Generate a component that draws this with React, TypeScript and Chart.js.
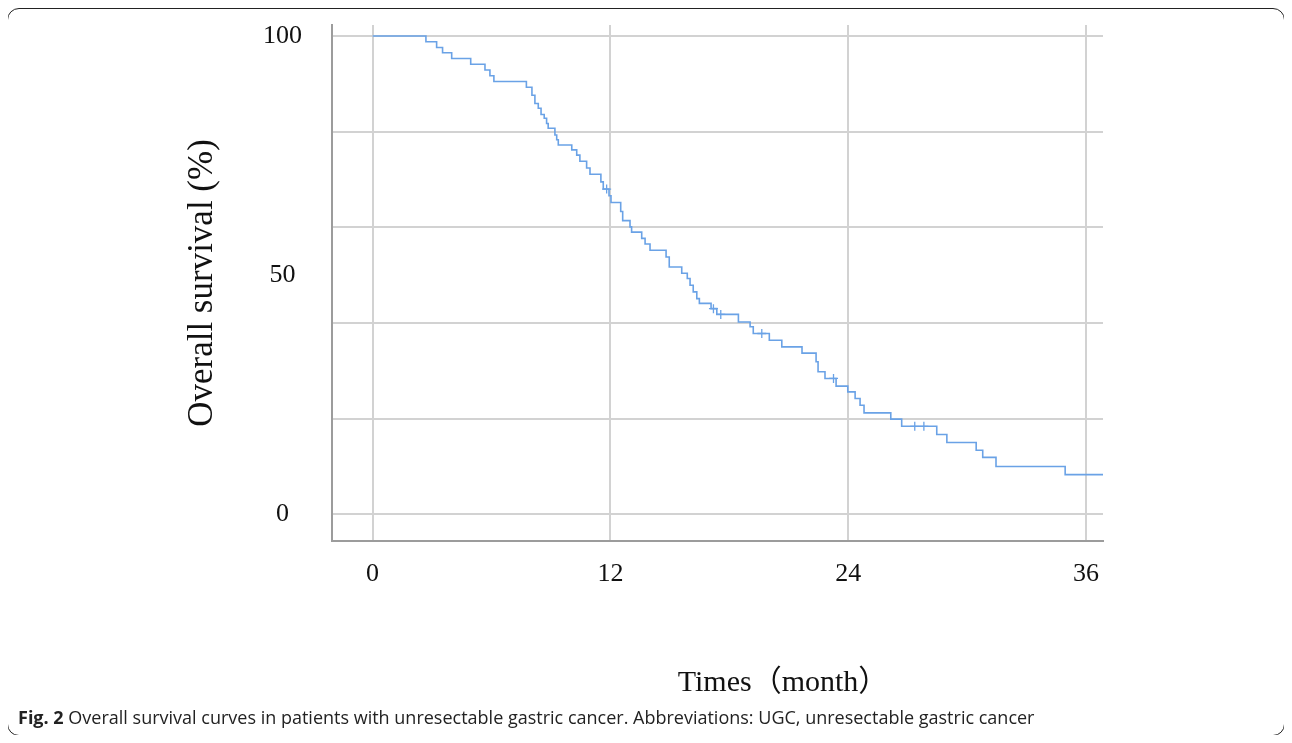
import React, { useEffect, useRef } from 'react';
import { Chart, registerables } from 'chart.js';

Chart.register(...registerables);

// Kaplan–Meier step points: time (months) and survival (%) after each event
const months = [
  0, 2.69, 3.23, 3.53, 3.99, 4.95, 5.67, 5.92, 6.12, 7.76, 8.04, 8.19, 8.36, 8.5, 8.66, 8.78, 8.86,
  9.2, 9.29, 9.37, 10.05, 10.3, 10.46, 10.8, 10.97, 11.52, 11.64, 11.93, 12.03, 12.52, 12.62, 12.99,
  13.07, 13.58, 13.75, 14.0, 14.81, 14.97, 15.6, 15.88, 16.02, 16.18, 16.36, 16.49, 17.08, 17.37,
  18.46, 19.05, 19.21, 20.02, 20.65, 21.67, 22.38, 22.48, 22.83, 23.39, 23.98, 24.35, 24.6, 24.8,
  26.15, 26.7, 28.47, 28.98, 30.46, 30.79, 31.46, 34.95, 36.86,
];
const survival = [
  100, 98.8, 97.6, 96.5, 95.3, 94.1, 92.9, 91.7, 90.5, 89.3, 87.6, 85.9, 84.9, 83.6, 82.8, 81.7, 80.7,
  79.3, 78.3, 77.2, 76.2, 75.1, 73.8, 72.4, 71.1, 69.5, 68.0, 66.6, 65.2, 63.3, 61.4, 60.1,
  59.0, 57.7, 56.5, 55.2, 53.8, 51.7, 50.4, 49.3, 47.9, 46.5, 45.1, 44.1, 43.0, 41.8,
  40.2, 39.2, 37.8, 36.4, 35.0, 33.7, 31.9, 29.8, 28.4, 26.8, 25.6, 24.2, 22.8, 21.2,
  19.9, 18.4, 16.7, 15.0, 13.4, 11.9, 10.0, 8.3, 8.3,
];
// censored observations
const censorMonths = [11.81, 17.2, 17.57, 19.64, 23.26, 27.36, 27.82];
const censorSurvival = [68.0, 43.0, 41.8, 37.8, 28.4, 18.4, 18.4];

const xTicks = [0, 12, 24, 36];
const yGridTicks = [0, 20, 40, 50, 60, 80, 100];
const yLabelTicks = [0, 50, 100];

const xTitle = 'Times（month）';
const yTitle = 'Overall survival (%)';
const captionBold = 'Fig. 2';
const captionText =
  ' Overall survival curves in patients with unresectable gastric cancer. Abbreviations: UGC, unresectable gastric cancer';

const LINE = '#6aa2e6';
const GRID = '#d2d2d2';
const AXIS = '#9c9c9c';
const SERIF = '"Liberation Serif", "Times New Roman", "Noto Sans CJK SC", serif';

// x-axis title drawn below the plot, offset to the right as in the original figure
const xTitlePlugin = {
  id: 'xTitlePlugin',
  afterDraw(chart: any) {
    const { ctx, chartArea } = chart;
    ctx.save();
    ctx.font = `30px ${SERIF}`;
    ctx.fillStyle = '#111';
    ctx.textAlign = 'center';
    ctx.textBaseline = 'middle';
    const cx = chartArea.left + chartArea.width * 0.585;
    ctx.fillText(xTitle, cx, chartArea.bottom + 142);
    ctx.restore();
  },
};

export default function App() {
  const ref = useRef<HTMLCanvasElement>(null);

  useEffect(() => {
    if (!ref.current) return;
    const chart = new Chart(ref.current, {
      type: 'line',
      data: {
        datasets: [
          {
            data: months.map((m, i) => ({ x: m, y: survival[i] })),
            stepped: true,
            borderColor: LINE,
            borderWidth: 1.6,
            pointRadius: 0,
            fill: false,
          },
          {
            data: censorMonths.map((m, i) => ({ x: m, y: censorSurvival[i] })),
            showLine: false,
            pointStyle: 'cross',
            pointRadius: 4.5,
            borderColor: LINE,
            borderWidth: 1.3,
          },
        ],
      },
      plugins: [xTitlePlugin],
      options: {
        responsive: false,
        animation: false,
        devicePixelRatio: 1,
        layout: { padding: { top: 17, right: 181, left: 170, bottom: 6 } },
        plugins: { legend: { display: false }, tooltip: { enabled: false } },
        scales: {
          x: {
            type: 'linear',
            min: -2.05,
            max: 36.86,
            afterBuildTicks: (s: any) => {
              s.ticks = xTicks.map((v) => ({ value: v }));
            },
            afterFit: (s: any) => {
              s.height = 161;
              s.paddingLeft = 0;
              s.paddingRight = 0;
            },
            ticks: {
              autoSkip: false,
              maxRotation: 0,
              padding: 18,
              color: '#111',
              font: { family: SERIF, size: 26 },
              callback: (v: any) => String(v),
            },
            grid: { color: GRID, lineWidth: 2, drawTicks: false },
            border: { display: true, color: AXIS, width: 2 },
          },
          y: {
            type: 'linear',
            min: -5.58,
            max: 102.3,
            afterBuildTicks: (s: any) => {
              s.ticks = yGridTicks.map((v) => ({ value: v }));
            },
            afterFit: (s: any) => {
              s.width = 154;
              s.paddingTop = 0;
              s.paddingBottom = 0;
            },
            ticks: {
              autoSkip: false,
              crossAlign: 'center',
              padding: 30,
              color: '#111',
              font: { family: SERIF, size: 26 },
              callback: (v: any) => (yLabelTicks.includes(v) ? String(v) : ''),
            },
            grid: {
              color: (ctx: any) => (ctx.tick && ctx.tick.value === 50 ? 'rgba(0,0,0,0)' : GRID),
              lineWidth: 2,
              drawTicks: false,
            },
            border: { display: true, color: AXIS, width: 2 },
            title: {
              display: true,
              text: yTitle,
              color: '#111',
              font: { family: SERIF, size: 35 },
              padding: { top: 4, bottom: 0 },
            },
          },
        },
      },
    });
    return () => chart.destroy();
  }, []);

  return (
    <div style={{ position: 'relative', width: 1276, height: 727 }}>
      <div
        style={{
          position: 'absolute',
          left: -1,
          top: 0,
          width: 1278,
          height: 728,
          border: '1.5px solid #222',
          borderRadius: 12,
          boxSizing: 'border-box',
        }}
      />
      <canvas
        ref={ref}
        width={1276}
        height={700}
        style={{ position: 'absolute', left: 0, top: 0, display: 'block' }}
      />
      <div
        style={{
          position: 'absolute',
          left: 10,
          top: 697,
          fontFamily: '"Open Sans", "Noto Sans", sans-serif',
          fontSize: 18,
          lineHeight: '24px',
          color: '#222',
          whiteSpace: 'nowrap',
        }}
      >
        <b>{captionBold}</b>
        {captionText}
      </div>
    </div>
  );
}
